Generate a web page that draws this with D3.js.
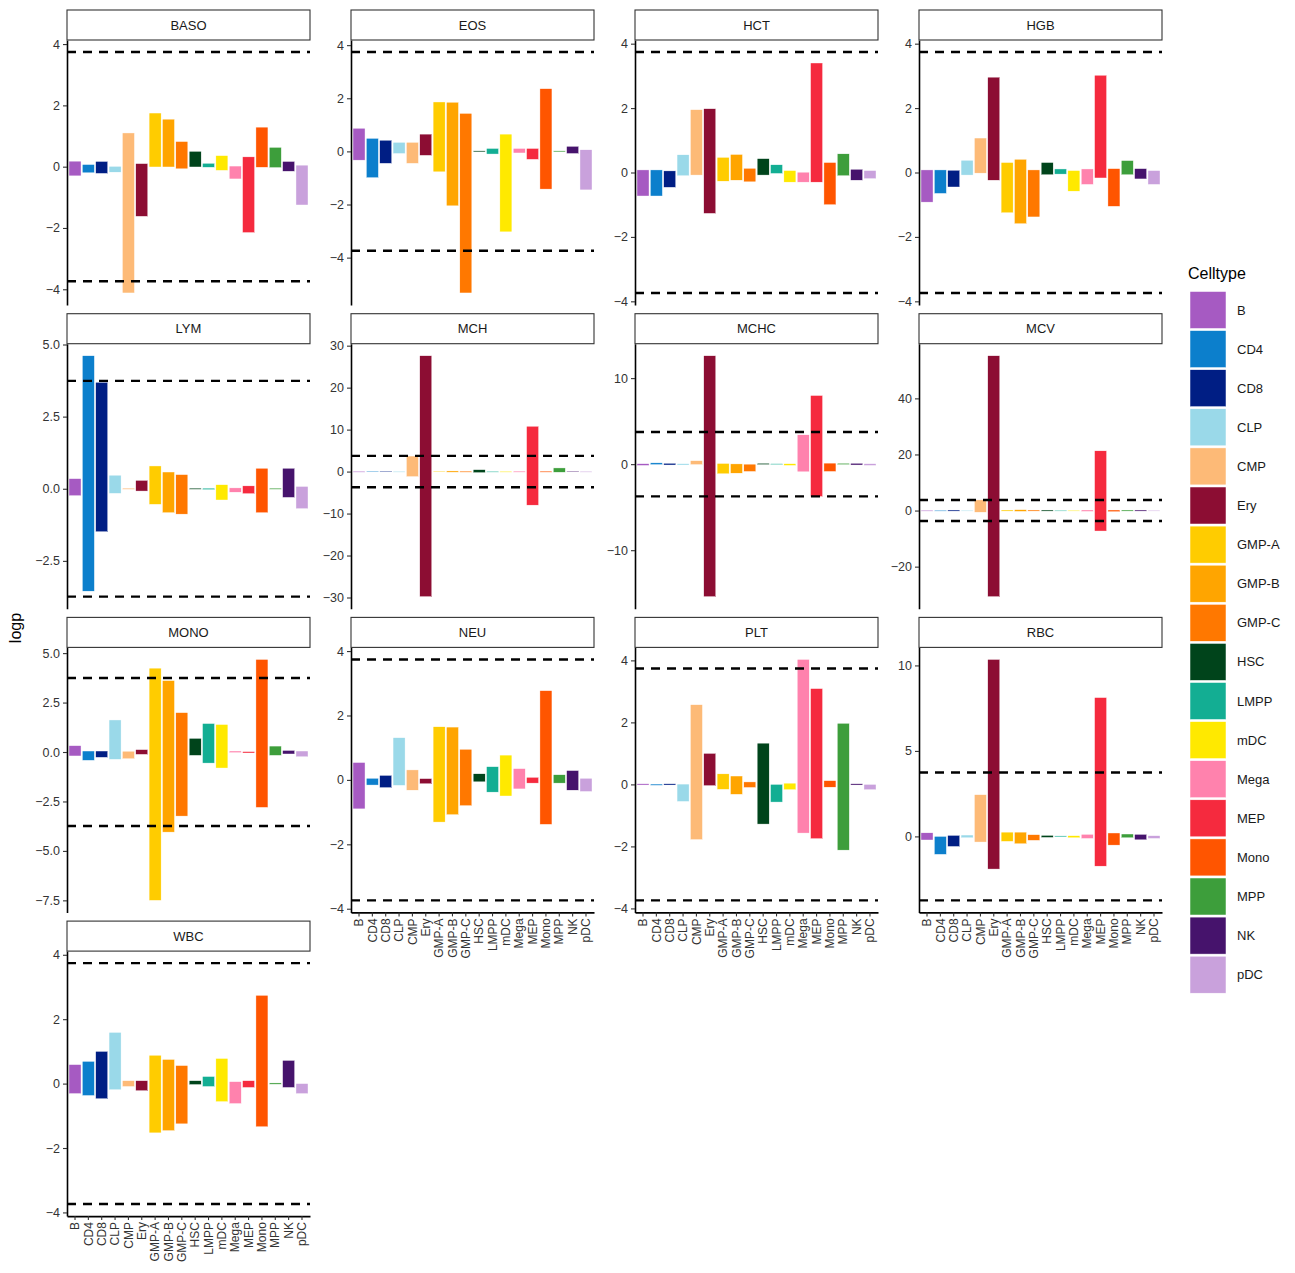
<!DOCTYPE html>
<html lang="en">
<head>
<meta charset="UTF-8">
<script src="https://d3js.org/d3.v7.min.js"></script>
<title>logp by celltype</title>
<style>
  body { margin: 0; background: #fff; }
  svg { font-family: "Liberation Sans", Arial, sans-serif; }
</style>
</head>
<body>
<div id="chart"></div>
<script>
// categories
const celltypes = ["B", "CD4", "CD8", "CLP", "CMP", "Ery", "GMP-A", "GMP-B", "GMP-C", "HSC", "LMPP", "mDC", "Mega", "MEP", "Mono", "MPP", "NK", "pDC"];
const colors = ["#A65AC2", "#0C7FCC", "#001E84", "#9AD9E9", "#FDBA77", "#8C0D33", "#FFCC00", "#FFA500", "#FF7800", "#00441B", "#13AE93", "#FFE900", "#FF82AD", "#F52A3E", "#FF5500", "#3D9E3B", "#46136C", "#C9A1DC"];
const traits = ["BASO", "EOS", "HCT", "HGB", "LYM", "MCH", "MCHC", "MCV", "MONO", "NEU", "PLT", "RBC", "WBC"];
const threshold = 3.74;

// lower and upper end of each bar, one value per celltype
const baso_lo = [-0.3, -0.2, -0.22, -0.18, -4.12, -1.62, -0.01, -0.01, -0.07, -0.01, -0.02, -0.12, -0.4, -2.15, -0.02, -0.03, -0.15, -1.25];
const baso_hi = [0.18, 0.07, 0.17, 0.01, 1.1, 0.1, 1.75, 1.55, 0.82, 0.5, 0.11, 0.36, 0.02, 0.32, 1.29, 0.63, 0.17, 0.05];
const eos_lo = [-0.33, -0.99, -0.45, -0.08, -0.45, -0.15, -0.77, -2.05, -5.33, -0.02, -0.1, -3.03, -0.06, -0.3, -1.42, -0.02, -0.08, -1.45];
const eos_hi = [0.87, 0.49, 0.42, 0.34, 0.34, 0.65, 1.86, 1.85, 1.43, 0.02, 0.11, 0.65, 0.11, 0.11, 2.36, 0.02, 0.19, 0.06];
const hct_lo = [-0.73, -0.73, -0.46, -0.1, -0.08, -1.27, -0.27, -0.24, -0.29, -0.08, -0.03, -0.3, -0.3, -0.3, -1.0, -0.1, -0.24, -0.19];
const hct_hi = [0.08, 0.08, 0.05, 0.55, 1.95, 1.98, 0.47, 0.56, 0.13, 0.43, 0.24, 0.06, 0.01, 3.4, 0.31, 0.58, 0.1, 0.06];
const hgb_lo = [-0.92, -0.65, -0.45, -0.08, -0.02, -0.24, -1.25, -1.59, -1.38, -0.07, -0.05, -0.58, -0.37, -0.17, -1.05, -0.07, -0.2, -0.37];
const hgb_hi = [0.08, 0.08, 0.07, 0.38, 1.07, 2.96, 0.31, 0.41, 0.08, 0.31, 0.11, 0.06, 0.11, 3.02, 0.12, 0.37, 0.12, 0.06];
const lym_lo = [-0.24, -3.55, -1.49, -0.16, -0.02, -0.08, -0.54, -0.83, -0.88, -0.02, -0.03, -0.39, -0.12, -0.17, -0.83, -0.02, -0.3, -0.69];
const lym_hi = [0.35, 4.61, 3.69, 0.47, 0.02, 0.29, 0.79, 0.58, 0.49, 0.02, 0.02, 0.14, 0.03, 0.1, 0.71, 0.02, 0.71, 0.08];
const mch_lo = [-0.1, -0.1, -0.1, -0.05, -1.2, -29.8, -0.1, -0.15, -0.15, -0.25, -0.05, -0.05, -0.15, -8.0, -0.15, -0.16, -0.1, -0.1];
const mch_hi = [0.05, 0.1, 0.1, 0.05, 3.7, 27.6, 0.1, 0.15, 0.1, 0.45, 0.05, 0.05, 0.1, 10.8, 0.1, 0.87, 0.1, 0.05];
const mchc_lo = [-0.15, -0.05, -0.1, -0.1, -0.05, -15.4, -1.12, -1.05, -0.85, -0.05, -0.05, -0.15, -0.89, -3.76, -0.85, -0.05, -0.1, -0.15];
const mchc_hi = [0.05, 0.15, 0.1, 0.05, 0.4, 12.6, 0.08, 0.03, 0.0, 0.1, 0.05, 0.05, 3.41, 7.98, 0.12, 0.1, 0.1, 0.05];
const mcv_lo = [-0.2, -0.2, -0.2, -0.1, -0.6, -30.7, -0.2, -0.3, -0.2, -0.2, -0.1, -0.1, -0.3, -7.3, -0.4, -0.2, -0.2, -0.1];
const mcv_hi = [0.1, 0.1, 0.2, 0.1, 3.8, 55.2, 0.2, 0.3, 0.2, 0.2, 0.1, 0.1, 0.2, 21.3, 0.2, 0.2, 0.2, 0.1];
const mono_lo = [-0.2, -0.42, -0.27, -0.37, -0.34, -0.12, -7.5, -4.05, -3.24, -0.17, -0.56, -0.81, -0.03, -0.05, -2.8, -0.17, -0.1, -0.24];
const mono_hi = [0.32, 0.05, 0.05, 1.62, 0.04, 0.12, 4.24, 3.61, 1.99, 0.69, 1.44, 1.39, 0.05, 0.02, 4.68, 0.3, 0.08, 0.05];
const neu_lo = [-0.9, -0.16, -0.24, -0.17, -0.32, -0.12, -1.31, -1.08, -0.8, -0.06, -0.38, -0.5, -0.28, -0.1, -1.38, -0.1, -0.32, -0.36];
const neu_hi = [0.54, 0.05, 0.14, 1.31, 0.31, 0.04, 1.65, 1.64, 0.95, 0.19, 0.41, 0.77, 0.35, 0.08, 2.77, 0.16, 0.29, 0.05];
const plt_lo = [-0.02, -0.03, -0.02, -0.55, -1.78, -0.04, -0.16, -0.32, -0.1, -1.28, -0.57, -0.17, -1.57, -1.75, -0.09, -2.12, -0.02, -0.17];
const plt_hi = [0.02, 0.01, 0.02, 0.01, 2.57, 1.0, 0.34, 0.27, 0.08, 1.33, 0.0, 0.04, 4.03, 3.09, 0.12, 1.97, 0.02, 0.0];
const rbc_lo = [-0.21, -1.05, -0.59, -0.08, -0.33, -1.91, -0.29, -0.43, -0.23, -0.06, -0.03, -0.08, -0.12, -1.74, -0.51, -0.08, -0.2, -0.12];
const rbc_hi = [0.21, 0.0, 0.06, 0.08, 2.44, 10.35, 0.25, 0.25, 0.1, 0.06, 0.03, 0.04, 0.12, 8.12, 0.2, 0.14, 0.12, 0.04];
const wbc_lo = [-0.31, -0.37, -0.47, -0.19, -0.09, -0.22, -1.53, -1.46, -1.25, -0.03, -0.09, -0.56, -0.62, -0.12, -1.34, -0.02, -0.12, -0.31];
const wbc_hi = [0.59, 0.69, 1.0, 1.59, 0.09, 0.09, 0.88, 0.75, 0.56, 0.09, 0.22, 0.78, 0.06, 0.09, 2.74, 0.02, 0.72, 0.0];

// y tick values per panel
const ticks4 = [-4, -2, 0, 2, 4];
const lym_ticks = [-2.5, 0, 2.5, 5];
const mch_ticks = [-30, -20, -10, 0, 10, 20, 30];
const mchc_ticks = [-10, 0, 10];
const mcv_ticks = [-20, 0, 20, 40];
const mono_ticks = [-7.5, -5, -2.5, 0, 2.5, 5];
const rbc_ticks = [0, 5, 10];

const panels = {
    BASO: [baso_lo, baso_hi, ticks4],
    EOS: [eos_lo, eos_hi, ticks4],
    HCT: [hct_lo, hct_hi, ticks4],
    HGB: [hgb_lo, hgb_hi, ticks4],
    LYM: [lym_lo, lym_hi, lym_ticks],
    MCH: [mch_lo, mch_hi, mch_ticks],
    MCHC: [mchc_lo, mchc_hi, mchc_ticks],
    MCV: [mcv_lo, mcv_hi, mcv_ticks],
    MONO: [mono_lo, mono_hi, mono_ticks],
    NEU: [neu_lo, neu_hi, ticks4],
    PLT: [plt_lo, plt_hi, ticks4],
    RBC: [rbc_lo, rbc_hi, rbc_ticks],
    WBC: [wbc_lo, wbc_hi, ticks4]
};

// layout
const width = 1295, height = 1273;
const left0 = 67, top0 = 10;
const panelW = 243, panelH = 265, stripH = 30;
const colStep = 284, rowStep = 303.7;
const ncol = 4;

const svg = d3.select("#chart")
    .append("svg")
    .attr("width", width)
    .attr("height", height);

const color = d3.scaleOrdinal().domain(celltypes).range(colors);

const x = d3.scaleBand()
    .domain(celltypes)
    .range([0, panelW])
    .paddingInner(0.1)
    .paddingOuter(0.15);

traits.forEach(function (trait, i) {
    const [lo, hi, tickVals] = panels[trait];
    const col = i % ncol, row = Math.floor(i / ncol);
    const px = left0 + col * colStep;
    const stripY = top0 + row * rowStep;

    const g = svg.append("g")
        .attr("transform", `translate(${px},${stripY + stripH})`);

    // y domain: data + threshold lines, expanded by 5% like ggplot
    let ymin = Math.min(d3.min(lo), -threshold);
    let ymax = Math.max(d3.max(hi), threshold);
    const pad = (ymax - ymin) * 0.05;
    const y = d3.scaleLinear()
        .domain([ymin - pad, ymax + pad])
        .range([panelH, 0]);

    // strip
    const strip = svg.append("g").attr("transform", `translate(${px},${stripY})`);
    strip.append("rect")
        .attr("x", 0).attr("y", 0)
        .attr("width", panelW).attr("height", stripH)
        .attr("fill", "white")
        .attr("stroke", "#333")
        .attr("stroke-width", 1.1);
    strip.append("text")
        .attr("x", panelW / 2)
        .attr("y", stripH / 2)
        .attr("dy", "0.35em")
        .attr("text-anchor", "middle")
        .attr("font-size", 13)
        .attr("fill", "#1a1a1a")
        .text(trait);

    // bars
    g.append("g")
        .selectAll("rect")
        .data(celltypes.map((c, k) => ({ cell: c, lo: lo[k], hi: hi[k] })))
        .join("rect")
        .attr("x", d => x(d.cell))
        .attr("width", x.bandwidth())
        .attr("y", d => y(d.hi))
        .attr("height", d => Math.max(0.8, y(d.lo) - y(d.hi)))
        .attr("fill", d => color(d.cell))
        .attr("stroke", "white")
        .attr("stroke-width", 0.4);

    // threshold lines
    g.append("g")
        .selectAll("line")
        .data([threshold, -threshold])
        .join("line")
        .attr("x1", 0).attr("x2", panelW)
        .attr("y1", d => y(d)).attr("y2", d => y(d))
        .attr("stroke", "black")
        .attr("stroke-width", 2.4)
        .attr("stroke-dasharray", "9,7");

    // y axis
    const decimals = tickVals.some(t => !Number.isInteger(t)) ? 1 : 0;
    const yAxis = g.append("g")
        .call(d3.axisLeft(y)
            .tickValues(tickVals)
            .tickFormat(t => t.toFixed(decimals).replace("-", "\u2212"))
            .tickSize(4)
            .tickSizeOuter(0)
            .tickPadding(3));
    yAxis.select(".domain").attr("stroke", "black").attr("stroke-width", 1.6);
    yAxis.selectAll(".tick line").attr("stroke", "#333").attr("stroke-width", 1.1);
    yAxis.selectAll("text")
        .attr("font-size", 12.5)
        .attr("fill", "#333")
        .attr("font-family", "Liberation Sans, Arial, sans-serif");

    // x axis only on the lowest panel of each column
    if (i + ncol >= traits.length) {
        const xAxis = g.append("g")
            .attr("transform", `translate(0,${panelH})`)
            .call(d3.axisBottom(x).tickSize(4).tickSizeOuter(0));
        xAxis.select(".domain").attr("stroke", "black").attr("stroke-width", 1.6);
        xAxis.selectAll(".tick line").attr("stroke", "#333").attr("stroke-width", 1.1);
        xAxis.selectAll("text")
            .attr("font-size", 12)
            .attr("fill", "#333")
            .attr("font-family", "Liberation Sans, Arial, sans-serif")
            .attr("transform", "rotate(-90)")
            .attr("text-anchor", "end")
            .attr("x", -6)
            .attr("y", 0)
            .attr("dy", "0.35em");
    }
});

// y axis title
svg.append("text")
    .attr("transform", "translate(21,628) rotate(-90)")
    .attr("text-anchor", "middle")
    .attr("font-size", 16)
    .attr("fill", "black")
    .text("logp");

// legend
const legend = svg.append("g").attr("transform", "translate(1188,0)");
legend.append("text")
    .attr("x", 0)
    .attr("y", 279)
    .attr("font-size", 16)
    .attr("fill", "black")
    .text("Celltype");

const keys = legend.selectAll("g.key")
    .data(celltypes)
    .join("g")
    .attr("class", "key")
    .attr("transform", (d, k) => `translate(0,${291.5 + k * 39.1})`);

keys.append("rect")
    .attr("x", 2)
    .attr("width", 36)
    .attr("height", 37)
    .attr("fill", d => color(d))
    .attr("stroke", "white")
    .attr("stroke-width", 0.5);

keys.append("text")
    .attr("x", 49)
    .attr("y", 18.5)
    .attr("dy", "0.35em")
    .attr("font-size", 13)
    .attr("fill", "#1a1a1a")
    .text(d => d);
</script>
</body>
</html>
